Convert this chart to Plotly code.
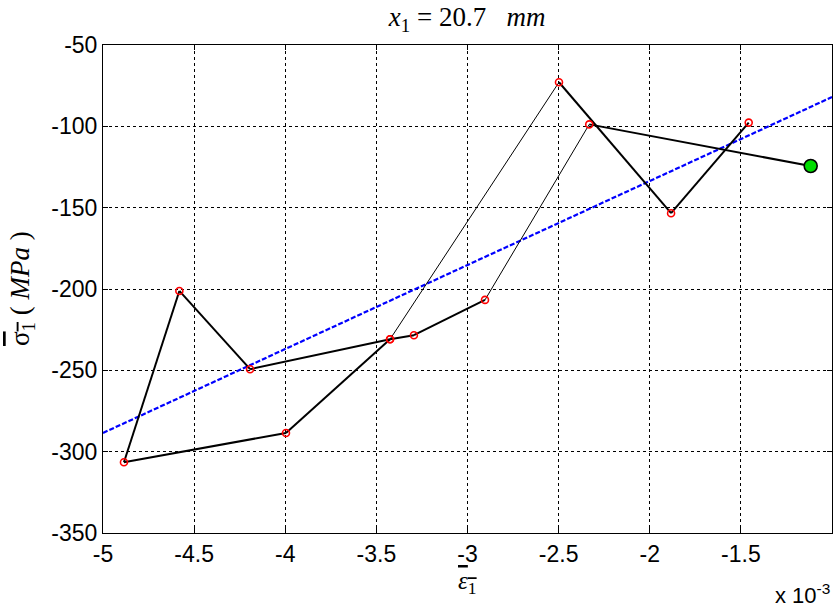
import plotly.graph_objects as go

# strain values in units of 1e-3, stress in MPa (path order)
path_x = [-1.457, -1.883, -2.498, -3.425, -3.996, -4.885, -4.581, -4.193, -3.425, -3.294, -2.904, -2.332, -1.117]
path_y = [-97.7, -153.4, -72.9, -230.9, -288.5, -306.5, -201.2, -249.3, -230.9, -228.4, -206.7, -98.8, -124.4]
seg_width = [2, 2, 1, 2, 2, 2, 2, 2, 2, 2, 1, 2]

fit_x = [-5.0, -1.0]
fit_y = [-288.5, -82.0]

x_ticks = [-5, -4.5, -4, -3.5, -3, -2.5, -2, -1.5, -1]
x_ticktext = ["-5", "-4.5", "-4", "-3.5", "-3", "-2.5", "-2", "-1.5", "-1"]
y_ticks = [-350, -300, -250, -200, -150, -100, -50]
y_ticktext = ["-350", "-300", "-250", "-200", "-150", "-100", "-50"]

fig = go.Figure()

# regression line
fig.add_trace(go.Scatter(x=fit_x, y=fit_y, mode="lines",
                         line=dict(color="#0000ff", width=2.2, dash="5px,2px"),
                         showlegend=False, hoverinfo="skip"))

# path segments
for i in range(len(path_x) - 1):
    fig.add_trace(go.Scatter(x=path_x[i:i + 2], y=path_y[i:i + 2], mode="lines",
                             line=dict(color="black", width=seg_width[i]),
                             showlegend=False, hoverinfo="skip"))

# red markers
fig.add_trace(go.Scatter(x=path_x[:-1], y=path_y[:-1], mode="markers",
                         marker=dict(symbol="circle-open", size=7, color="#ff0000",
                                     line=dict(width=1.6, color="#ff0000")),
                         showlegend=False))
# current point
fig.add_trace(go.Scatter(x=path_x[-1:], y=path_y[-1:], mode="markers",
                         marker=dict(symbol="circle", size=13, color="#00dd00",
                                     line=dict(width=1.6, color="black")),
                         showlegend=False))

axis_common = dict(showline=True, linecolor="black", linewidth=1, mirror="ticks",
                   ticks="inside", ticklen=5, tickcolor="black",
                   showgrid=True, gridcolor="black", gridwidth=1, griddash="3px,3px",
                   zeroline=False,
                   tickfont=dict(family="Liberation Sans, Arial", size=23, color="black"))

fig.update_xaxes(range=[-5, -1], tickvals=x_ticks, ticktext=x_ticktext, **axis_common)
fig.update_yaxes(range=[-350, -50], tickvals=y_ticks, ticktext=y_ticktext, **axis_common)

serif = "Liberation Serif, DejaVu Serif"
fig.update_layout(
    width=838, height=615,
    margin=dict(l=103, r=6, t=45, b=82),
    paper_bgcolor="white", plot_bgcolor="white",
    title=dict(text="<i>x</i><sub>1</sub> = 20.7   <i>mm</i>", x=0.5575, xanchor="center",
               y=1 - 17 / 615, yanchor="middle",
               font=dict(family=serif, size=27, color="black")),
    annotations=[
        dict(text='<span style="text-decoration:overline"><i>ε</i><sub>1</sub></span>',
             xref="paper", yref="paper", x=0.5, y=(533 - 582) / 488,
             xanchor="center", yanchor="middle", showarrow=False,
             font=dict(family=serif, size=25, color="black")),
        dict(text='<span style="text-decoration:overline">σ<sub>1</sub></span> ( <i>MPa</i> )',
             xref="paper", yref="paper",
             x=(22 - 103) / 729, y=0.5, textangle=-90, xanchor="center", yanchor="middle",
             showarrow=False,
             font=dict(family=serif, size=27, color="black")),
        dict(text="x 10<sup>-3</sup>", xref="paper", yref="paper",
             x=1.0, y=(533 - 594) / 488, xanchor="right", yanchor="middle", showarrow=False,
             font=dict(family="Liberation Sans, Arial", size=22, color="black")),
    ],
)

fig.write_html("out.html")
